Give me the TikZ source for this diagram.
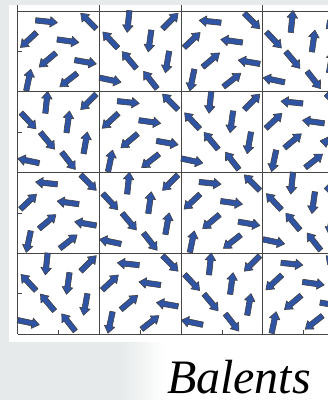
\documentclass[tikz,border=0pt]{standalone}
\usepackage{fontspec}
\setmainfont{Liberation Serif}
\usepackage{tikz}
\usetikzlibrary{positioning}

\definecolor{spinblue}{RGB}{48,84,164}
\definecolor{slidegray}{RGB}{230,234,234}
\definecolor{gridgray}{RGB}{70,70,70}

\begin{document}
\begin{tikzpicture}[x=1pt, y=-1pt,
		spin/.style={fill=spinblue, draw=black!75, line width=0.6pt, line join=round},
		gridline/.style={gridgray, line width=1pt},
		tickline/.style={gridgray, line width=0.8pt}]
		% 0. Page: grey slide behind a white panel
		\useasboundingbox (0,0) rectangle (328,400);
		\fill[slidegray] (0,0) rectangle (328,400);
		\shade[left color=slidegray, right color=white] (120,342) rectangle (165,400);
		\fill[white] (165,342) rectangle (328,400);
		\fill[white] (9,5) rectangle (328,342);
		\clip (0,0) rectangle (328,400);

		% grid origin and cell size
		\def\gx{17.5}
		\def\gy{11}
		\def\gs{81.8}

		% 1. Draw the Grid
		\foreach \col in {0,...,4}
			\draw[gridline] ({\gx+\col*\gs},5) -- ({\gx+\col*\gs},{\gy+4*\gs*0.988});
		\foreach \row in {0,...,4}
			\draw[gridline] (\gx,{\gy+\row*\gs*0.988}) -- (345,{\gy+\row*\gs*0.988});

		% 2. Ticks in the middle of each cell
		\foreach \k in {0,...,3}{
			\draw[tickline] (\gx,{\gy+(\k+0.5)*\gs*0.988}) -- ({\gx+4},{\gy+(\k+0.5)*\gs*0.988});
			\draw[tickline] ({\gx+(\k+0.5)*\gs},{\gy+4*\gs*0.988}) -- ({\gx+(\k+0.5)*\gs},{\gy+4*\gs*0.988-4});
		}

		% 3. Spins: same eight arrows in every cell, turned by 90 deg from cell to cell
		\foreach \row in {0,...,3}{
			\foreach \col in {0,...,3}{
				\pgfmathsetmacro{\turn}{90*(\row-\col)}
				\foreach \ax/\ay/\aa in {29/10.5/-6, 71/10/135, 11/29/223, 50.5/30/-8,
						30/49/220, 68/51/-10, 11/69/78, 51/69/218}{
					\filldraw[spin, shift={({\gx+\col*\gs+\ax},{\gy+\row*\gs*0.988+\ay})}, rotate=\aa+\turn]
						(-11,-2.7) -- (3.8,-2.7) -- (3.8,-5.3) -- (11,0)
						-- (3.8,5.3) -- (3.8,2.7) -- (-11,2.7) -- cycle;
				}
			}
		}

		% 4. Name
		\node[anchor=base, inner sep=0pt, text depth=0pt, font=\fontsize{48}{50}\selectfont\itshape] (name) at (239,393) {Balents};
	\end{tikzpicture}
\end{document}
